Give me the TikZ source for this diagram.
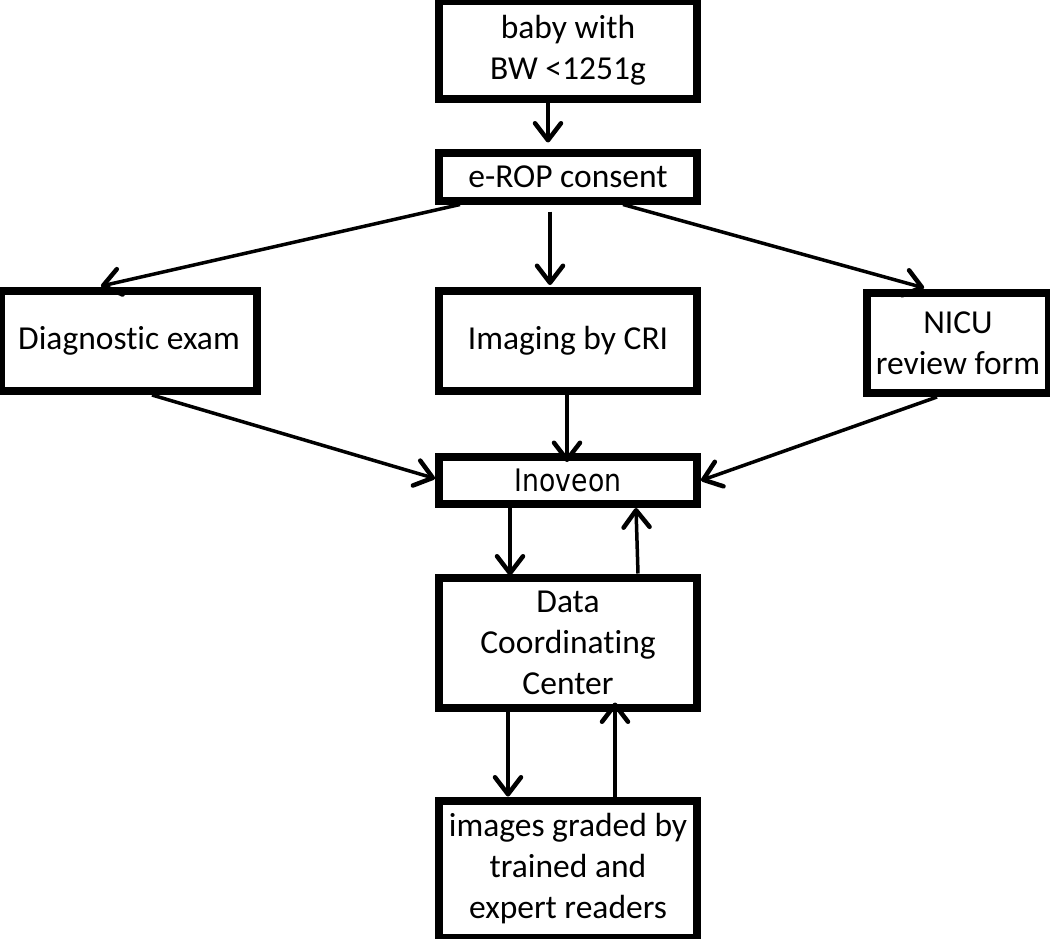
\documentclass[tikz,border=0pt]{standalone}
\usepackage{fontspec}
\setmainfont[Ligatures=NoCommon]{Carlito}
\newfontfamily\inofont[FakeStretch=0.86]{DejaVu Sans}
\usetikzlibrary{arrows.meta}
\begin{document}
\begin{tikzpicture}[x=1pt,y=-1pt,
  box/.style={draw, line width=8pt, rectangle, align=center, inner sep=0pt,
    font=\fontsize{33.5}{41}\selectfont},
  arr/.style={line width=3.5pt, -{Straight Barb[length=17pt,width=26pt,line width=4.5pt,round]}}
]
\useasboundingbox (0,0) rectangle (1050,939);
\node[box, minimum width=258pt, minimum height=98pt] (baby) at (568,50) {baby with\\BW <1251g};
\node[box, minimum width=258pt, minimum height=47pt] (erop) at (568,177) {e-ROP consent};
\node[box, minimum width=256pt, minimum height=100pt] (diag) at (129,341) {Diagnostic exam};
\node[box, minimum width=258pt, minimum height=100pt] (imaging) at (568,341) {Imaging by CRI};
\node[box, minimum width=182pt, minimum height=100pt] (nicu) at (958,343) {NICU\\review form};
\node[box, minimum width=258pt, minimum height=47pt, font=\inofont\fontsize{31}{36}\selectfont] (inov) at (568,480.5) {Inoveon};
\node[box, minimum width=258pt, minimum height=130pt] (dcc) at (568,642.5) {Data\\Coordinating\\Center};
\node[box, minimum width=258pt, minimum height=137pt] (images) at (568,869) {images graded by\\trained and\\expert readers};

\draw[arr, shorten >=7pt] ([xshift=-20pt]baby.south) -- ([xshift=-20pt]erop.north);
\draw[arr, shorten >=4pt] ([xshift=-108pt]erop.south) -- ([xshift=-32pt]diag.north);
\draw[arr, shorten <=7pt, shorten >=2pt] ([xshift=-18pt]erop.south) -- ([xshift=-18pt]imaging.north);
\draw[arr, shorten >=4pt] ([xshift=55pt]erop.south) -- ([xshift=-30pt]nicu.north);
\draw[arr] ([xshift=23pt]diag.south) -- ([yshift=2pt]inov.west);
\draw[arr, shorten >=-9pt] ([xshift=-1pt]imaging.south) -- ([xshift=-1pt]inov.north);
\draw[arr] ([xshift=-21pt]nicu.south) -- ([yshift=0pt]inov.east);
\draw[arr, shorten >=-2pt] ([xshift=-58pt]inov.south) -- ([xshift=-58pt]dcc.north);
\draw[arr] ([xshift=70pt]dcc.north) -- ([xshift=68pt]inov.south);
\draw[arr] ([xshift=-60pt]dcc.south) -- ([xshift=-60pt]images.north);
\draw[arr, shorten >=-9pt] ([xshift=47pt]images.north) -- ([xshift=47pt]dcc.south);
\end{tikzpicture}
\end{document}
